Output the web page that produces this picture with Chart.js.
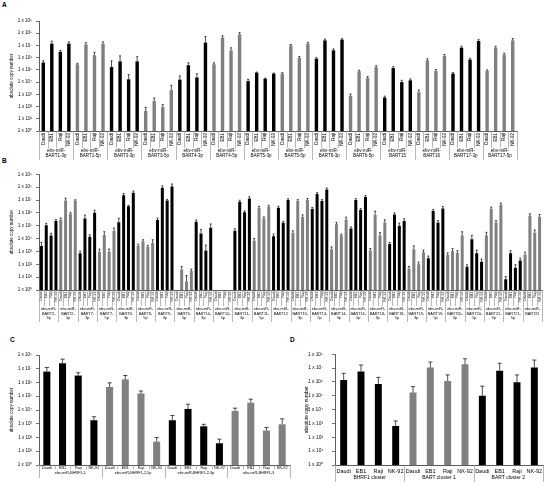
<!DOCTYPE html>
<html>
<head>
<meta charset="utf-8">
<script src="https://cdn.jsdelivr.net/npm/chart.js@4.4.0/dist/chart.umd.min.js"></script>
<style>
body{margin:0;background:#fff;width:550px;height:485px;position:relative;overflow:hidden;font-family:"Liberation Sans",Arial,sans-serif}
canvas{position:absolute}
.panel{position:absolute;font-weight:bold;font-size:6.5px;color:#000}
</style>
</head>
<body>
<div class="panel" style="left:2px;top:1px">A</div>
<div class="panel" style="left:2px;top:157px">B</div>
<div class="panel" style="left:10px;top:336px">C</div>
<div class="panel" style="left:290px;top:336px">D</div>
<canvas id="chartA" width="550" height="165" style="left:0;top:0"></canvas>
<canvas id="chartB" width="550" height="162" style="left:0;top:165px"></canvas>
<canvas id="chartC" width="295" height="145" style="left:0;top:340px"></canvas>
<canvas id="chartD" width="255" height="145" style="left:295px;top:340px"></canvas>
<script>
// ----------------- data -----------------
const cells = ['Daudi','EB1','Raji','NK-92'];
const decades9 = [1,1e1,1e2,1e3,1e4,1e5,1e6,1e7,1e8,1e9];
const decades8 = [1,1e1,1e2,1e3,1e4,1e5,1e6,1e7,1e8];

// A
const groupsA = ['BART1-3p','BART1-5p','BART3-3p','BART3-5p','BART4-3p','BART4-5p','BART5-3p',
                 'BART5-5p','BART6-3p','BART6-5p','BART15','BART16','BART17-3p','BART17-5p'];
const valuesA = [
  4e5,1.4e7,3e6,1.4e7,     2.9e5,1.2e7,1.6e6,1.4e7,   1.7e5,5e5,1.7e4,5e5,     43,280,90,2200,
  1.6e4,2.4e5,2.4e4,1.7e7, 2.9e5,4.4e7,4e6,8e7,       1.2e4,6e4,1.9e4,5e4,     5e4,1e7,9.5e5,1.4e7,
  8.3e5,2.6e7,4e6,3e7,     760,7.8e4,2.2e4,1.7e5,     550,1.4e5,1e4,1.4e4,     1500,6.2e5,8.3e4,1.4e6,
  5e4,6.6e6,6.9e5,2.3e7,   8.3e4,6.6e6,1.8e6,2.6e7
];
// upper error, relative to the value
const errA = [
  0.4,0.6,0.3,0.4, 0.2,0.4,0.7,0.4, 2.2,1.8,1.4,1.4, 1.0,0.8,0.6,1.5,
  1.0,0.6,1.0,2.2, 0.3,0.4,0.6,0.4, 0.4,0.1,0.1,0.1, 0.2,0.2,0.3,0.3,
  0.2,0.3,0.3,0.2, 0.4,0.2,0.3,0.3, 0.3,0.3,0.4,0.3, 0.5,0.3,0.3,0.3,
  0.2,0.3,0.3,0.3, 0.2,0.3,0.3,0.4
];

// B
const groupsB = ['BART2-3p','BART2-5p','BART7-3p','BART7-5p','BART8-3p','BART8-5p','BART9-3p','BART9-5p',
                 'BART10-3p','BART10-5p','BART11-3p','BART11-5p','BART12','BART13-3p','BART13-5p',
                 'BART14-3p','BART14-5p','BART18-3p','BART18-5p','BART19-3p','BART19-5p','BART20-3p',
                 'BART20-5p','BART21-3p','BART21-5p','BART22'];
const valuesB = [
  2600,1.1e5,1.7e4,2.3e5,  3.1e5,8.7e6,8.5e5,8.7e6,  710,3.7e5,1.4e4,1e6,     950,1.9e4,950,3.9e4,
  1.9e5,2.3e7,3.2e6,3.6e7, 2800,5800,2300,4500,      2.8e5,9e7,9.3e6,1.1e8,   null,40,4.5,30,
  2e5,2.5e4,1200,6.9e4,    null,null,null,null,      4.1e4,7.4e6,1.1e6,1.3e7, 6800,2.5e6,3.7e5,3e6,
  1.5e4,2.5e6,1.7e5,9.8e6, 2.9e4,8.3e6,4.7e5,1e7,    2e6,2.9e7,8.3e6,6.6e7,   1500,1.3e5,1.7e4,3.1e5,
  6.2e4,9.8e6,1.7e6,1.7e7, 1200,6.8e5,1.7e4,1.8e5,   3800,7.6e5,1e5,2.3e5,    48,1500,100,850,
  290,1.4e6,1.8e5,2.2e6,   520,1100,760,1.7e4,       65,9000,710,160,         1.7e4,2e6,1.8e5,4.1e6,
  7,710,55,200,            590,5.6e5,2.9e4,5e5
];
const errB = [
  1.0,0.4,0.5,0.3, 0.3,0.6,0.3,0.2, 0.5,0.8,0.4,0.6, 0.6,0.8,0.6,0.7,
  1.0,0.4,0.2,0.4, 0.3,0.4,0.3,0.8, 0.4,0.4,0.2,0.6, 0,0.7,2.0,0.4,
  0.4,1.0,1.6,1.0, 0,0,0,0,         0.4,0.3,0.3,0.4, 0.5,0.3,0.3,0.3,
  0.5,0.3,0.3,0.3, 0.4,0.3,0.5,0.3, 0.3,0.3,0.3,0.3, 0.5,0.4,0.3,0.5,
  0.3,0.3,0.3,0.3, 0.4,1.0,0.7,0.6, 0.3,0.3,0.6,0.5, 0.4,0.8,0.5,0.5,
  0.5,0.3,0.4,0.4, 0.5,0.5,0.5,1.0, 0.4,1.0,0.8,0.6, 0.8,0.4,0.4,0.4,
  0.6,0.6,0.7,0.5, 0.5,0.5,0.6,0.5
];

// C
const groupsC = ['ebv-miR-BHRF1-1','ebv-miR-BHRF1-2-5p','ebv-miR-BHRF1-2-3p','ebv-miR-BHRF1-3'];
const valuesC = [6.2e6,2.5e7,3.2e6,1800, 4.7e5,1.7e6,1.6e5,50, 1800,1.2e4,650,38, 8500,3.4e4,320,910];
const errC = [1.0,1.0,0.6,0.8, 1.0,0.9,0.5,1.0, 1.2,1.2,0.4,1.0, 0.6,0.8,0.7,1.5];

// D
const groupsD = ['BHRF1 cluster','BART cluster 1','BART cluster 2'];
const valuesD = [1.4e6,5.6e6,7.2e5,660, 1.7e5,1.1e7,1.2e6,1.9e7, 1e5,6.6e6,9.5e5,1.1e7];
const errD = [2.0,2.0,2.0,1.3, 1.7,1.5,1.7,1.5, 4.0,2.4,2.4,2.5];

// ----------------- helpers -----------------
const BLACK = '#000000', GRAY = '#808080';
const SUP = ['⁰','¹','²','³','⁴','⁵','⁶','⁷','⁸','⁹'];
const FONT = '"Liberation Sans", Arial, sans-serif';
Chart.defaults.font.family = FONT;
Chart.defaults.color = '#000';

function tickLabel(v){ return '1 x 10' + SUP[Math.round(Math.log10(v))]; }

// multi-level category axis: separators + group names under the cell labels
const groupAxis = {
  id:'groupAxis',
  afterDraw(chart, args, o){
    const {ctx, chartArea} = chart, x = chart.scales.x;
    const n = chart.data.labels.length, per = cells.length;
    const edge = i => i===0 ? chartArea.left : i===n ? chartArea.right
                    : (x.getPixelForValue(i-1)+x.getPixelForValue(i))/2;
    ctx.save();
    ctx.strokeStyle = o.lineColor; ctx.lineWidth = 0.7;
    for(let i=0;i<=n;i++){
      const len = i%per===0 ? o.groupLine : o.cellLine;
      if(!len) continue;
      const px = Math.round(edge(i))+0.5;
      ctx.beginPath(); ctx.moveTo(px, chartArea.bottom); ctx.lineTo(px, chartArea.bottom+len); ctx.stroke();
    }
    ctx.fillStyle = '#000';
    ctx.font = o.fontSize+'px '+FONT;
    ctx.textAlign = 'center'; ctx.textBaseline = 'middle';
    o.names.forEach((lines,g)=>{
      const cx = (edge(g*per)+edge((g+1)*per))/2;
      lines.forEach((t,li)=>ctx.fillText(t, cx, chartArea.bottom+o.lineY[li]));
    });
    ctx.restore();
  }
};

const errorBars = {
  id:'errorBars',
  afterDatasetsDraw(chart){
    const {ctx} = chart, ds = chart.data.datasets[0], y = chart.scales.y;
    ctx.save(); ctx.strokeStyle = '#000'; ctx.lineWidth = 0.7;
    chart.getDatasetMeta(0).data.forEach((bar,i)=>{
      const v = ds.data[i];
      if(v==null || !ds.err[i]) return;
      const top = y.getPixelForValue(v*(1+ds.err[i]));
      const cap = Math.max(1, bar.width*0.3);
      ctx.beginPath();
      ctx.moveTo(bar.x, bar.y); ctx.lineTo(bar.x, top);
      ctx.moveTo(bar.x-cap, top); ctx.lineTo(bar.x+cap, top);
      ctx.stroke();
    });
    ctx.restore();
  }
};

function buildChart(id, o){
  const labels = [], colors = [];
  o.groups.forEach((g,gi)=>cells.forEach(c=>{ labels.push(c); colors.push(gi%2 ? GRAY : BLACK); }));
  return new Chart(document.getElementById(id), {
    type:'bar',
    data:{labels, datasets:[{data:o.values, err:o.err, backgroundColor:colors,
                             barPercentage:o.barPct, categoryPercentage:1}]},
    options:{
      responsive:false, animation:false,
      layout:{padding:o.pad},
      plugins:{legend:{display:false}, tooltip:{enabled:false},
               groupAxis:{names:o.names, lineY:o.lineY, fontSize:o.groupFont,
                          cellLine:o.cellLine, groupLine:o.groupLine, lineColor:'#9a9a9a'}},
      scales:{
        x:{
          grid:{display:false, drawTicks:false, tickLength:0},
          border:{color:'#333', width:0.8},
          ticks:{autoSkip:false, maxRotation:o.rot, minRotation:o.rot, padding:o.cellPad,
                 font:{size:o.cellFont}},
          afterFit:s=>{ s.height = o.xHeight; }
        },
        y:{
          type:'logarithmic', min:1, max:o.decades[o.decades.length-1],
          afterBuildTicks:s=>{ s.ticks = o.decades.map(v=>({value:v})); },
          grid:{drawOnChartArea:false, drawTicks:true, tickLength:3, color:'#333', lineWidth:0.7},
          border:{color:'#333', width:0.8},
          ticks:{callback:v=>tickLabel(v), padding:o.tickPad, font:{size:o.tickFont}},
          title:{display:true, text:'absolute copy number', font:{size:o.titleFont},
                 padding:{top:o.titlePad, bottom:0}},
          afterFit:s=>{ s.width = o.yWidth; }
        }
      }
    },
    plugins:[groupAxis, errorBars]
  });
}

// ----------------- charts -----------------
buildChart('chartA', {
  groups:groupsA, values:valuesA, err:errA, decades:decades9,
  names:groupsA.map(g=>['ebv-miR-', g]),
  pad:{top:21, right:33, left:0, bottom:0}, yWidth:39, xHeight:34,
  barPct:0.4, rot:90, cellFont:4.5, cellPad:2, tickFont:4.5, tickPad:4,
  titleFont:4.5, titlePad:9, groupFont:4.5, lineY:[20,25], cellLine:17, groupLine:29
});

buildChart('chartB', {
  groups:groupsB, values:valuesB, err:errB, decades:decades9,
  names:groupsB.map(g=>g.includes('-') ? ['ebv-miR-', g.slice(0,g.indexOf('-')+1), g.slice(g.indexOf('-')+1)]
                                         : ['ebv-miR-', g]),
  pad:{top:9.3, right:8, left:0, bottom:0}, yWidth:39, xHeight:37,
  barPct:0.62, rot:90, cellFont:3.6, cellPad:1.5, tickFont:4.5, tickPad:4,
  titleFont:4.5, titlePad:9, groupFont:3.8, lineY:[19,23.5,28], cellLine:16, groupLine:32
});

buildChart('chartC', {
  groups:groupsC, values:valuesC, err:errC, decades:decades8,
  names:groupsC.map(g=>[g]),
  pad:{top:15, right:5, left:0, bottom:0}, yWidth:39, xHeight:20,
  barPct:0.45, rot:0, cellFont:3.8, cellPad:1, tickFont:4.5, tickPad:4,
  titleFont:4.5, titlePad:9, groupFont:3.8, lineY:[7.5], cellLine:4.5, groupLine:13
});

buildChart('chartD', {
  groups:groupsD, values:valuesD, err:errD, decades:decades8,
  names:groupsD.map(g=>[g]),
  pad:{top:14.3, right:7, left:0, bottom:0}, yWidth:40, xHeight:20,
  barPct:0.4, rot:0, cellFont:5.5, cellPad:3.5, tickFont:4.8, tickPad:9,
  titleFont:4.8, titlePad:9, groupFont:5, lineY:[13], cellLine:0, groupLine:17
});
</script>
</body>
</html>
